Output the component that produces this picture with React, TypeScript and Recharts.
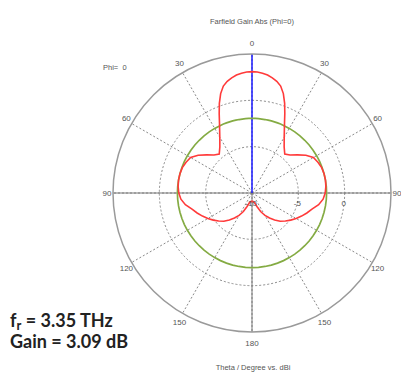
import React from 'react';
import { RadarChart, Radar, PolarGrid, PolarAngleAxis, PolarRadiusAxis } from 'recharts';

// Farfield gain (dBi) versus theta (degrees), Phi = 0 cut
const thetaDeg = [
  0, 2.5, 5, 7.5, 10, 12.5, 15, 17.5, 20, 22.5, 25, 30, 35, 40, 45, 50, 55, 60, 65, 70, 75, 80, 85,
  90, 95, 100, 105, 110, 115, 120, 125, 130, 135, 140, 145, 150, 155, 160, 165, 170, 175,
  180, 185, 190, 195, 200, 205, 210, 215, 220, 225, 230, 235, 240, 245, 250, 255, 260, 265,
  270, 275, 280, 285, 290, 295, 300, 305, 310, 315, 320, 325, 330, 335, 337.5, 340, 342.5, 345, 347.5, 350, 352.5, 355, 357.5,
];

const gainDbi = [
  3.1, 3.07, 2.98, 2.85, 2.62, 2.35, 1.95, 1.25, 0.3, -0.75, -1.7, -3.05, -3.95, -4.5, -4.2, -3.6, -2.9, -2.35, -2.15, -2.0, -1.95, -1.95, -2.0,
  -2.1, -2.3, -2.7, -3.3, -3.7, -4.1, -4.5, -4.9, -5.3, -5.7, -6.2, -6.7, -7.2, -7.8, -8.45, -8.9, -9.05, -9.1,
  -9.1, -9.1, -9.05, -8.9, -8.45, -7.8, -7.2, -6.7, -6.2, -5.7, -5.3, -4.9, -4.5, -4.1, -3.7, -3.3, -2.7, -2.3,
  -2.1, -2.0, -1.95, -1.95, -2.0, -2.15, -2.35, -2.9, -3.6, -4.2, -4.5, -3.95, -3.05, -1.7, -0.75, 0.3, 1.25, 1.95, 2.35, 2.62, 2.85, 2.98, 3.07,
];

// reference level circle (dBi)
const refLevelDbi = -1.95;

const angleTicks = [0, 30, 60, 90, 120, 150, 180, 210, 240, 270, 300, 330];
const angleTickLabels = ['0', '30', '60', '90', '120', '150', '180', '150', '120', '90', '60', '30'];
const radiusTicks = [-10, -5, 0];
const radiusDomain = [-10, 5];

const rows = thetaDeg.map((t, i) => ({ theta: t, gain: gainDbi[i], level: refLevelDbi }));

const CX = 252;
const CY = 193;
const labelFont = '"Liberation Sans", Arial, sans-serif';

const AngleTick = (props: any) => {
  const { x, y, payload } = props;
  const idx = angleTicks.indexOf(payload.value);
  // labels sit on a slightly narrower ring horizontally
  const lx = CX + (x - CX) * 0.967;
  return (
    <text x={lx} y={y} textAnchor="middle" dominantBaseline="central" fontSize={8} fill="#555" fontFamily={labelFont}>
      {angleTickLabels[idx]}
    </text>
  );
};

const RadiusTick = (props: any) => {
  const { x, y, payload } = props;
  return (
    <text x={x - 1} y={y + 10} textAnchor="middle" dominantBaseline="central" fontSize={8} fill="#555" fontFamily={labelFont}>
      {payload.value}
    </text>
  );
};

export default function App() {
  return (
    <div style={{ position: 'absolute', left: 0, top: 0, width: 401, height: 372, background: '#fff' }}>
      <RadarChart
        width={401}
        height={372}
        data={rows}
        cx={CX}
        cy={CY}
        innerRadius={0}
        outerRadius={139}
        startAngle={90}
        endAngle={-270}
        margin={{ top: 0, right: 0, bottom: 0, left: 0 }}
      >
        {/* dotted rings and 30° spokes */}
        <PolarGrid gridType="circle" stroke="#8a8a8a" strokeDasharray="2 2" />
        {/* solid horizontal axis and lower vertical axis */}
        <PolarGrid gridType="circle" polarAngles={[0, 180, 270]} polarRadius={[]} stroke="#777" strokeWidth={1} />
        {/* main lobe direction */}
        <PolarGrid gridType="circle" polarAngles={[90]} polarRadius={[]} stroke="#1a1aff" strokeWidth={1.5} />
        <PolarAngleAxis
          dataKey="theta"
          type="number"
          domain={[0, 360]}
          ticks={angleTicks}
          tick={<AngleTick />}
          tickLine={false}
          tickSize={11}
          axisLineType="circle"
          axisLine={{ stroke: '#9a9a9a', strokeWidth: 1.5 }}
        />
        <PolarRadiusAxis
          angle={0}
          type="number"
          domain={radiusDomain}
          ticks={radiusTicks}
          tick={<RadiusTick />}
          tickLine={false}
          axisLine={false}
        />
        <Radar dataKey="level" stroke="#84ab43" strokeWidth={1.7} fill="none" fillOpacity={0} isAnimationActive={false} dot={false} />
        <Radar dataKey="gain" stroke="#ff3a3a" strokeWidth={1.6} fill="none" fillOpacity={0} isAnimationActive={false} dot={false} />
      </RadarChart>
      <svg width={401} height={372} style={{ position: 'absolute', left: 0, top: 0, pointerEvents: 'none' }}>
        <text x={252} y={24} textAnchor="middle" fontSize={7.5} fill="#555" fontFamily={labelFont}>
          Farfield Gain Abs (Phi=0)
        </text>
        <text x={103} y={70} fontSize={7.5} fill="#555" fontFamily={labelFont}>
          {'Phi=\u00a0\u00a00'}
        </text>
        <text x={253} y={370} textAnchor="middle" fontSize={7.5} fill="#555" fontFamily={labelFont}>
          Theta / Degree vs. dBi
        </text>
        <text x={10} y={327} fontSize={18} fontWeight="bold" fill="#222" fontFamily="Lato, sans-serif">
          f<tspan fontSize={13} dy={3}>r</tspan>
          <tspan dy={-3}>{'\u00a0= 3.35 THz'}</tspan>
        </text>
        <text x={10} y={348} fontSize={18} fontWeight="bold" fill="#222" fontFamily="Lato, sans-serif">
          Gain = 3.09 dB
        </text>
      </svg>
    </div>
  );
}
